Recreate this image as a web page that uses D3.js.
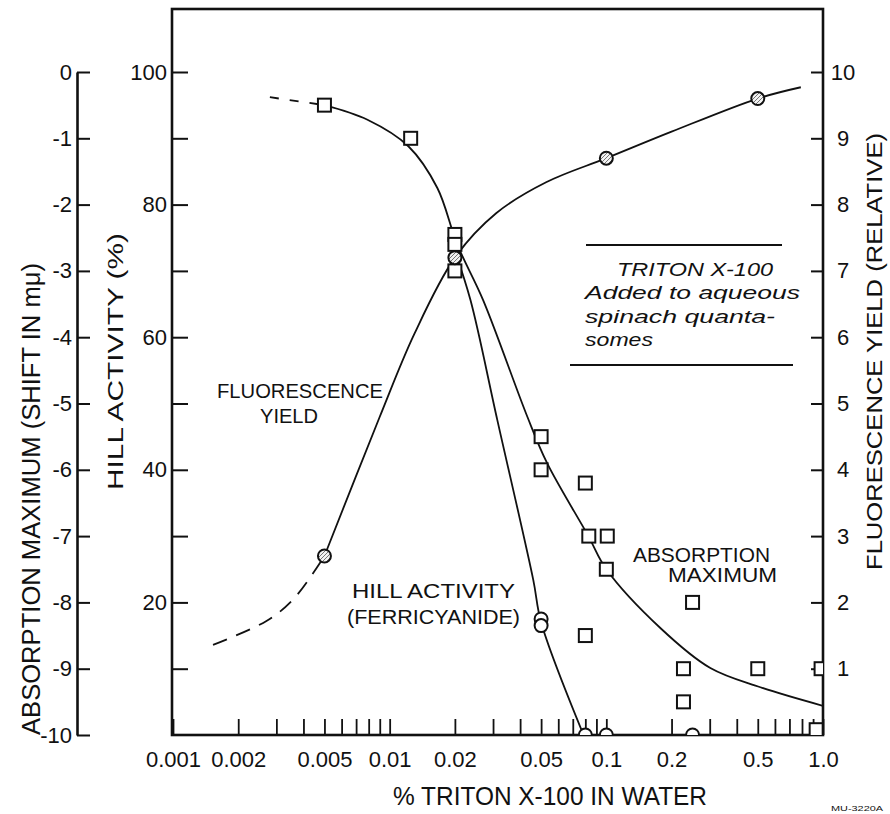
<!DOCTYPE html>
<html>
<head>
<meta charset="utf-8">
<script src="https://cdn.jsdelivr.net/npm/d3@7"></script>
<style>
  body { margin: 0; background: #fff; }
  svg { font-family: "Liberation Sans", Arial, sans-serif; }
  .axis path, .axis line { stroke: #111; }
  .axis text { fill: #111; font-size: 22px; }
</style>
</head>
<body>
<svg width="890" height="814"></svg>
<script>
// ---- data (% Triton X-100 in water) ----
// absorption maximum shift (m-mu), squares
var absPtConc  = [0.005, 0.0125, 0.02, 0.02, 0.02, 0.05, 0.05, 0.08, 0.083, 0.101, 0.1, 0.08, 0.25, 0.227, 0.227, 0.5, 0.98, 0.93];
var absPtShift = [-0.5, -1.0, -2.45, -2.6, -3.0, -5.5, -6.0, -6.2, -7.0, -7.0, -7.5, -8.5, -8.0, -9.0, -9.5, -9.0, -9.0, -9.92];
var absDashConc  = [0.0028, 0.005];
var absDashShift = [-0.38, -0.5];
var absConc  = [0.005, 0.0079, 0.0122, 0.0166, 0.0205, 0.027, 0.0432, 0.0533, 0.0826, 0.1, 0.178, 0.302, 0.514, 1.0];
var absShift = [-0.5, -0.72, -1.12, -1.75, -2.6, -3.44, -5.2, -5.9, -7.0, -7.5, -8.39, -8.99, -9.28, -9.56];

// hill activity (%), open circles
var hillPtConc = [0.05, 0.05, 0.08, 0.1, 0.25];
var hillPtAct  = [17.5, 16.5, 0, 0, 0];
var hillConc = [0.02, 0.0236, 0.0314, 0.046, 0.05, 0.0785];
var hillAct  = [73, 65.6, 47.5, 23.4, 17, 0];

// fluorescence yield (relative), hatched circles
var flPtConc  = [0.005, 0.02, 0.1, 0.5];
var flPtYield = [2.7, 7.2, 8.7, 9.6];
var flDashConc  = [0.00153, 0.0027, 0.0036, 0.005];
var flDashYield = [1.36, 1.72, 2.05, 2.7];
var flConc  = [0.005, 0.009, 0.013, 0.02, 0.031, 0.053, 0.1, 0.2, 0.5, 0.79];
var flYield = [2.7, 4.8, 6.05, 7.2, 7.87, 8.34, 8.7, 9.1, 9.6, 9.77];

// ticks
var xTicks = [0.001, 0.002, 0.003, 0.004, 0.005, 0.006, 0.007, 0.008, 0.009,
              0.01, 0.02, 0.03, 0.04, 0.05, 0.06, 0.07, 0.08, 0.09,
              0.1, 0.2, 0.3, 0.4, 0.5, 0.6, 0.7, 0.8, 0.9, 1.0];
var xLabelVals = [0.001, 0.002, 0.005, 0.01, 0.02, 0.05, 0.1, 0.2, 0.5, 1.0];
var xLabelText = ["0.001", "0.002", "0.005", "0.01", "0.02", "0.05", "0.1", "0.2", "0.5", "1.0"];
var hillTicks  = [10, 20, 30, 40, 50, 60, 70, 80, 90, 100];
var hillLabels = [20, 40, 60, 80, 100];
var absTicks   = [0, -1, -2, -3, -4, -5, -6, -7, -8, -9, -10];
var flTicks    = [1, 2, 3, 4, 5, 6, 7, 8, 9, 10];

var svg = d3.select("svg");

// frame edges (plotTop: "top" is taken by window.top)
var plotLeft = 172, plotRight = 823, plotTop = 9, plotBottom = 735, yTop = 72;

var x = d3.scaleLog().domain([0.001, 1]).range([173, 823]);
var yHill = d3.scaleLinear().domain([0, 100]).range([plotBottom, yTop]);
var yAbs  = d3.scaleLinear().domain([-10, 0]).range([plotBottom, yTop]);
var yFl   = d3.scaleLinear().domain([0, 10]).range([plotBottom, yTop]);

var defs = svg.append("defs");
defs.append("clipPath").attr("id", "plot")
  .append("rect").attr("x", plotLeft).attr("y", plotTop)
  .attr("width", plotRight - plotLeft).attr("height", plotBottom - plotTop);
var hatch = defs.append("pattern").attr("id", "hatch")
  .attr("patternUnits", "userSpaceOnUse").attr("width", 4).attr("height", 4);
hatch.append("rect").attr("width", 4).attr("height", 4).attr("fill", "#f2f2f2");
hatch.append("path").attr("d", "M0,4 L4,0").attr("stroke", "#666").attr("stroke-width", 0.9);

// ---- axes ----
var gx = svg.append("g").attr("class", "axis")
  .attr("transform", "translate(0," + plotBottom + ")")
  .call(d3.axisBottom(x).tickValues(xTicks).tickSize(-16).tickPadding(16)
    .tickFormat(function(d) {
      var i = xLabelVals.findIndex(function(v) { return Math.abs(v - d) < 1e-9; });
      return i >= 0 ? xLabelText[i] : "";
    }));
gx.select(".domain").remove();
gx.selectAll("line").attr("stroke-width", 1.8);

var gh = svg.append("g").attr("class", "axis")
  .attr("transform", "translate(" + plotLeft + ",0)")
  .call(d3.axisLeft(yHill).tickValues(hillTicks).tickSize(-16).tickPadding(5)
    .tickFormat(function(d) { return hillLabels.indexOf(d) >= 0 ? d : ""; }));
gh.select(".domain").remove();
gh.selectAll("line").attr("stroke-width", 2);

var ga = svg.append("g").attr("class", "axis")
  .attr("transform", "translate(77,0)")
  .call(d3.axisLeft(yAbs).tickValues(absTicks).tickSize(-13).tickSizeOuter(0).tickPadding(5)
    .tickFormat(function(d) { return d; }));
ga.select(".domain").attr("stroke-width", 2.6);
ga.selectAll("line").attr("stroke-width", 2);

var gf = svg.append("g").attr("class", "axis")
  .attr("transform", "translate(" + plotRight + ",0)")
  .call(d3.axisRight(yFl).tickValues(flTicks).tickSize(-12).tickPadding(20));
gf.select(".domain").remove();
gf.selectAll("line").attr("stroke-width", 2);
gf.selectAll("text").attr("text-anchor", "middle");

// frame
svg.append("rect")
  .attr("x", plotLeft).attr("y", plotTop)
  .attr("width", plotRight - plotLeft).attr("height", plotBottom - plotTop)
  .attr("fill", "none").attr("stroke", "#111").attr("stroke-width", 2.6);

// ---- curves ----
var plot = svg.append("g").attr("clip-path", "url(#plot)");

function drawLine(xs, ys, yScale, dash) {
  var pts = xs.map(function(d, i) { return [x(d), yScale(ys[i])]; });
  plot.append("path")
    .attr("d", d3.line().curve(d3.curveCatmullRom.alpha(0.5))(pts))
    .attr("fill", "none").attr("stroke", "#111").attr("stroke-width", 1.8)
    .attr("stroke-dasharray", dash || null);
}
drawLine(flDashConc, flDashYield, yFl, "15,10");
drawLine(flConc, flYield, yFl);
drawLine(absDashConc, absDashShift, yAbs, "9,11");
drawLine(absConc, absShift, yAbs);
drawLine(hillConc, hillAct, yHill);

// ---- markers ----
plot.selectAll(".sq").data(absPtConc).enter().append("rect")
  .attr("x", function(d) { return x(d) - 6.5; })
  .attr("y", function(d, i) { return yAbs(absPtShift[i]) - 6.5; })
  .attr("width", 13).attr("height", 13)
  .attr("fill", "#fff").attr("stroke", "#111").attr("stroke-width", 2);

plot.selectAll(".hc").data(hillPtConc).enter().append("circle")
  .attr("cx", function(d) { return x(d); })
  .attr("cy", function(d, i) { return yHill(hillPtAct[i]); })
  .attr("r", 6.5)
  .attr("fill", "#fff").attr("stroke", "#111").attr("stroke-width", 2);

plot.selectAll(".fc").data(flPtConc).enter().append("circle")
  .attr("cx", function(d) { return x(d); })
  .attr("cy", function(d, i) { return yFl(flPtYield[i]); })
  .attr("r", 6.5)
  .attr("fill", "url(#hatch)").attr("stroke", "#111").attr("stroke-width", 2);

// ---- text ----
function label(txt, px, py, len, size, opts) {
  opts = opts || {};
  var t = svg.append("text")
    .attr("x", px).attr("y", py)
    .attr("font-size", size).attr("fill", "#111")
    .attr("text-anchor", opts.anchor || "start")
    .attr("font-style", opts.italic ? "italic" : null)
    .text(txt);
  if (len) t.attr("textLength", len).attr("lengthAdjust", "spacingAndGlyphs");
  if (opts.rotate) t.attr("transform", "rotate(-90," + px + "," + py + ")");
  return t;
}

label("ABSORPTION  MAXIMUM  (SHIFT  IN  m\u03bc)", 40, 735, 472, 25, {rotate: true});
label("HILL  ACTIVITY  (%)", 123, 490, 257, 22, {rotate: true});
label("FLUORESCENCE  YIELD  (RELATIVE)", 882, 570, 437, 22, {rotate: true});
label("% TRITON  X-100  IN  WATER", 393, 805, 314, 25);

label("FLUORESCENCE", 217, 398, 166, 20);
label("YIELD", 260, 423, 58, 20);
label("HILL  ACTIVITY", 352, 598, 163, 21);
label("(FERRICYANIDE)", 347, 624, 173, 21);
label("ABSORPTION", 633, 562, 137, 20);
label("MAXIMUM", 668, 582, 109, 20);

label("TRITON  X-100", 617, 276, 156, 19, {italic: true});
label("Added  to  aqueous", 585, 299, 215, 19, {italic: true});
label("spinach  quanta-", 585, 323, 190, 19, {italic: true});
label("somes", 585, 346, 68, 19, {italic: true});
svg.append("line").attr("x1", 586).attr("x2", 782).attr("y1", 245).attr("y2", 245)
  .attr("stroke", "#111").attr("stroke-width", 1.8);
svg.append("line").attr("x1", 570).attr("x2", 793).attr("y1", 365).attr("y2", 365)
  .attr("stroke", "#111").attr("stroke-width", 1.8);

label("MU-3220A", 831, 811, 52, 8);
</script>
</body>
</html>
